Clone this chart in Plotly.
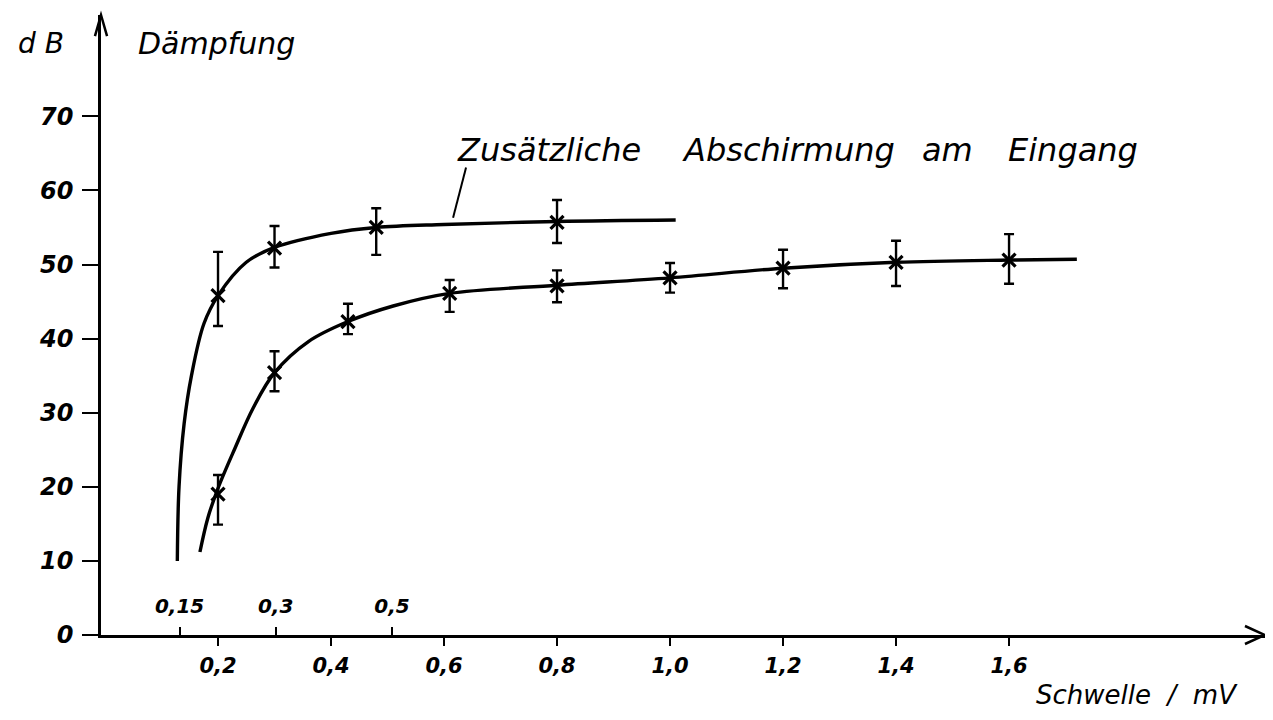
import plotly.graph_objects as go

# ---------------- data ----------------
# measured points, lower curve (without additional shielding)
lower_x = [0.2, 0.3, 0.43, 0.61, 0.8, 1.0, 1.2, 1.4, 1.6]
lower_y = [19.0, 35.4, 42.3, 46.1, 47.1, 48.2, 49.5, 50.3, 50.6]
lower_err_plus = [2.6, 2.9, 2.4, 1.8, 2.1, 2.0, 2.5, 2.9, 3.5]
lower_err_minus = [4.1, 2.5, 1.7, 2.5, 2.2, 2.0, 2.7, 3.2, 3.2]

# hand-drawn fit line through the lower points
lower_curve_x = [0.168, 0.182, 0.2, 0.23, 0.262, 0.3, 0.36, 0.43, 0.51, 0.61, 0.8, 1.0, 1.2, 1.4, 1.6, 1.72]
lower_curve_y = [11.2, 15.8, 19.8, 25.2, 30.6, 35.4, 39.6, 42.3, 44.4, 46.1, 47.2, 48.2, 49.5, 50.3, 50.6, 50.7]

# measured points, upper curve ("Zusätzliche Abschirmung am Eingang")
upper_x = [0.2, 0.3, 0.48, 0.8]
upper_y = [45.8, 52.2, 55.0, 55.7]
upper_err_plus = [5.9, 3.0, 2.6, 3.0]
upper_err_minus = [4.1, 2.6, 3.7, 2.8]

# hand-drawn fit line through the upper points
upper_curve_x = [0.128, 0.131, 0.14, 0.153, 0.175, 0.2, 0.25, 0.3, 0.4, 0.48, 0.6, 0.8, 1.01]
upper_curve_y = [10.0, 20.0, 28.5, 35.0, 42.0, 45.8, 50.3, 52.3, 54.2, 55.0, 55.4, 55.8, 56.0]

# axes ticks
y_ticks = [0, 10, 20, 30, 40, 50, 60, 70]
y_tick_labels = ["0", "10", "20", "30", "40", "50", "60", "70"]
x_ticks = [0.2, 0.4, 0.6, 0.8, 1.0, 1.2, 1.4, 1.6]
x_tick_labels = ["0,2", "0,4", "0,6", "0,8", "1,0", "1,2", "1,4", "1,6"]
x2_ticks = [0.132, 0.302, 0.508]
x2_tick_labels = ["0,15", "0,3", "0,5"]

# leader line from the label to the upper curve
leader_x = [0.639, 0.616]
leader_y = [63.1, 56.3]

X_RANGE = [-0.0071, 2.053]
Y_RANGE = [0, 83.67]

FONT = "DejaVu Sans"
INK = "black"

fig = go.Figure()

for cx, cy in [(upper_curve_x, upper_curve_y), (lower_curve_x, lower_curve_y)]:
    fig.add_trace(go.Scatter(
        x=cx, y=cy, mode="lines",
        line=dict(color=INK, width=3.4, shape="spline", smoothing=1.0),
        hoverinfo="skip", showlegend=False))

for px, py, ep, em in [(upper_x, upper_y, upper_err_plus, upper_err_minus),
                       (lower_x, lower_y, lower_err_plus, lower_err_minus)]:
    fig.add_trace(go.Scatter(
        x=px, y=py, mode="markers",
        marker=dict(symbol="x-thin", size=13, line=dict(color=INK, width=3.2), color=INK),
        error_y=dict(type="data", symmetric=False, array=ep, arrayminus=em,
                     color=INK, thickness=2.4, width=5),
        showlegend=False))

# invisible trace to activate the secondary (top-side) tick axis on the baseline
fig.add_trace(go.Scatter(x=[1.0], y=[0], xaxis="x2", mode="markers",
                         marker=dict(opacity=0), hoverinfo="skip", showlegend=False))

fig.update_layout(
    width=1273, height=720,
    margin=dict(l=93, r=16, t=7, b=93),
    paper_bgcolor="white", plot_bgcolor="white",
    showlegend=False,
    xaxis=dict(range=X_RANGE, showgrid=False, zeroline=False,
               showline=True, linecolor=INK, linewidth=2.5,
               tickmode="array", tickvals=x_ticks, ticktext=x_tick_labels,
               ticks="outside", ticklen=8, tickwidth=2, tickcolor=INK,
               tickfont=dict(family=FONT, size=21, color=INK, style="italic", weight="bold"),
               ticklabelstandoff=2),
    xaxis2=dict(range=X_RANGE, overlaying="x", anchor="free", position=0, side="top",
                showgrid=False, zeroline=False, showline=False,
                tickmode="array", tickvals=x2_ticks, ticktext=x2_tick_labels,
                ticks="outside", ticklen=8, tickwidth=2, tickcolor=INK,
                tickfont=dict(family=FONT, size=20, color=INK, style="italic", weight="bold"),
                ticklabelstandoff=6),
    yaxis=dict(range=Y_RANGE, showgrid=False, zeroline=False,
               showline=True, linecolor=INK, linewidth=2.5,
               tickmode="array", tickvals=y_ticks, ticktext=y_tick_labels,
               ticks="outside", ticklen=16, tickwidth=2, tickcolor=INK,
               tickfont=dict(family=FONT, size=24, color=INK, style="italic", weight="bold"),
               ticklabelstandoff=4),
)

# arrowheads at the axis ends (paper coordinates)
fig.add_shape(type="path", xref="paper", yref="paper",
              path="M 0.9828 0.0145 L 1 0 L 0.9828 -0.0145",
              line=dict(color=INK, width=2.5))
fig.add_shape(type="path", xref="paper", yref="paper",
              path="M -0.0052 0.966 L 0 1 L 0.0052 0.966",
              line=dict(color=INK, width=2.5))

# leader line
fig.add_shape(type="line", xref="x", yref="y",
              x0=leader_x[0], y0=leader_y[0], x1=leader_x[1], y1=leader_y[1],
              line=dict(color=INK, width=2))

def label(text, x, y, size, xanchor="left", yanchor="middle"):
    fig.add_annotation(text=text, xref="paper", yref="paper", x=x, y=y,
                       xanchor=xanchor, yanchor=yanchor, showarrow=False,
                       font=dict(family=FONT, size=size, color=INK, style="italic"))

def px2paper(px, py):
    return (px - 93) / 1164, (627 - py) / 620

x, y = px2paper(8, 36)
label("d B", x, y, 28)
x, y = px2paper(128, 35)
label("Dämpfung", x, y, 30)

for word, left in [("Zusätzliche", 447), ("Abschirmung", 672), ("am", 912), ("Eingang", 998)]:
    x, y = px2paper(left, 142)
    label(word, x, y, 32)

x, y = px2paper(1232, 687)
label("Schwelle  /  mV", x, y, 26, xanchor="right")

fig.write_html("out.html", config={"displayModeBar": False})
